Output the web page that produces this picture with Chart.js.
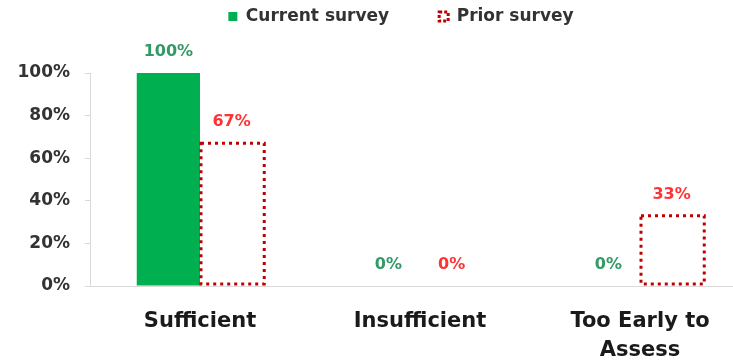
<!DOCTYPE html>
<html>
<head>
<meta charset="utf-8">
<script src="https://cdn.jsdelivr.net/npm/chart.js@4.4.1/dist/chart.umd.min.js"></script>
<style>
  html, body { margin: 0; padding: 0; overflow: hidden; background: #ffffff; }
  #wrap { position: absolute; left: 0; top: 0; width: 750px; height: 361px; }
</style>
</head>
<body>
<div id="wrap"><canvas id="c" width="750" height="361"></canvas></div>
<script>
const categories = [["Sufficient"], ["Insufficient"], ["Too Early to", "Assess"]];
const seriesNames = ["Current survey", "Prior survey"];
const currentSurvey = [100, 0, 0];
const priorSurvey = [67, 0, 33];
const yTickStep = 20;
const yMax = 100;

const GREEN = "#00B050";
const GREEN_LABEL = "#339966";
const RED = "#C00000";
const RED_LABEL = "#FF3333";
const TEXT = "#333333";
const AXIS = "#D9D9D9";
const FONT = "'DejaVu Sans', Verdana, sans-serif";
const LEGEND_LEFT = 52;
const LEGEND_GAP = 50;
const LEGEND_H = 115;

const legendFix = {
  id: "legendFix",
  afterInit(chart) {
    const lg = chart.legend;
    if (!lg) return;
    const orig = lg.fit.bind(lg);
    lg.fit = function () { orig(); this.height = LEGEND_H; };
  },
  afterLayout(chart) {
    if (chart.legend) chart.legend.left = LEGEND_LEFT;
  }
};

const dottedBars = {
  id: "dottedBars",
  afterDatasetsDraw(chart) {
    const ctx = chart.ctx;
    chart.data.datasets.forEach((ds, di) => {
      if (!ds._dotted) return;
      const meta = chart.getDatasetMeta(di);
      meta.data.forEach((el, i) => {
        if (!ds.data[i]) return;
        const p = el.getProps(["x", "y", "base", "width"], true);
        const lw = 3;
        const left = p.x - p.width / 2 + 1;
        const right = p.x + p.width / 2 + 1;
        const top = p.y;
        const bottom = p.base - lw / 2;
        ctx.save();
        ctx.strokeStyle = RED;
        ctx.lineWidth = lw;
        ctx.setLineDash([3, 4]);
        ctx.beginPath();
        ctx.rect(left, top, right - left, bottom - top);
        ctx.stroke();
        ctx.restore();
      });
    });
  }
};

const valueLabels = {
  id: "valueLabels",
  afterDatasetsDraw(chart) {
    const ctx = chart.ctx;
    chart.data.datasets.forEach((ds, di) => {
      const meta = chart.getDatasetMeta(di);
      meta.data.forEach((el, i) => {
        const p = el.getProps(["x", "y"], true);
        ctx.save();
        ctx.font = "bold 16px " + FONT;
        ctx.fillStyle = ds._labelColor;
        ctx.textAlign = "center";
        ctx.textBaseline = "middle";
        ctx.fillText(ds.data[i] + "%", p.x, p.y - 21);
        ctx.restore();
      });
    });
  }
};

new Chart(document.getElementById("c"), {
  type: "bar",
  data: {
    labels: categories,
    datasets: [
      {
        label: seriesNames[0],
        data: currentSurvey,
        backgroundColor: GREEN,
        borderWidth: 0,
        _labelColor: GREEN_LABEL
      },
      {
        label: seriesNames[1],
        data: priorSurvey,
        backgroundColor: "#FFFFFF",
        borderWidth: 0,
        _dotted: true,
        _labelColor: RED_LABEL
      }
    ]
  },
  options: {
    responsive: false,
    animation: false,
    layout: { padding: { left: 0, right: 0, top: -42, bottom: 0 } },
    datasets: { bar: { barPercentage: 1.0, categoryPercentage: 0.575 } },
    plugins: {
      tooltip: { enabled: false },
      legend: {
        position: "top",
        align: "center",
        labels: {
          color: TEXT,
          font: { family: FONT, size: 17, weight: "bold" },
          boxWidth: 9,
          boxHeight: 9,
          padding: LEGEND_GAP,
          generateLabels(chart) {
            return chart.data.datasets.map((ds, i) => ({
              text: ds.label,
              fillStyle: i === 0 ? GREEN : "#FFFFFF",
              strokeStyle: i === 0 ? GREEN : RED,
              lineWidth: i === 0 ? 0 : 3,
              lineDash: i === 0 ? [] : [3, 2],
              fontColor: TEXT,
              hidden: false,
              datasetIndex: i
            }));
          }
        }
      }
    },
    scales: {
      x: {
        grid: { display: false, drawTicks: false },
        border: { display: true, color: AXIS, width: 1 },
        ticks: {
          color: "#1a1a1a",
          font: { family: FONT, size: 21, weight: "bold", lineHeight: 1.38 },
          padding: 21,
          maxRotation: 0,
          autoSkip: false
        },
        afterFit(scale) { scale.height = 75; }
      },
      y: {
        min: 0,
        max: yMax,
        grid: { drawOnChartArea: false, drawTicks: true, tickLength: 5, color: AXIS },
        border: { display: true, color: AXIS, width: 1 },
        ticks: {
          stepSize: yTickStep,
          color: TEXT,
          font: { family: FONT, size: 17, weight: "bold" },
          padding: 15,
          callback: (v) => v + "%"
        },
        afterFit(scale) { scale.width = 90; }
      }
    }
  },
  plugins: [legendFix, dottedBars, valueLabels]
});
</script>
</body>
</html>
